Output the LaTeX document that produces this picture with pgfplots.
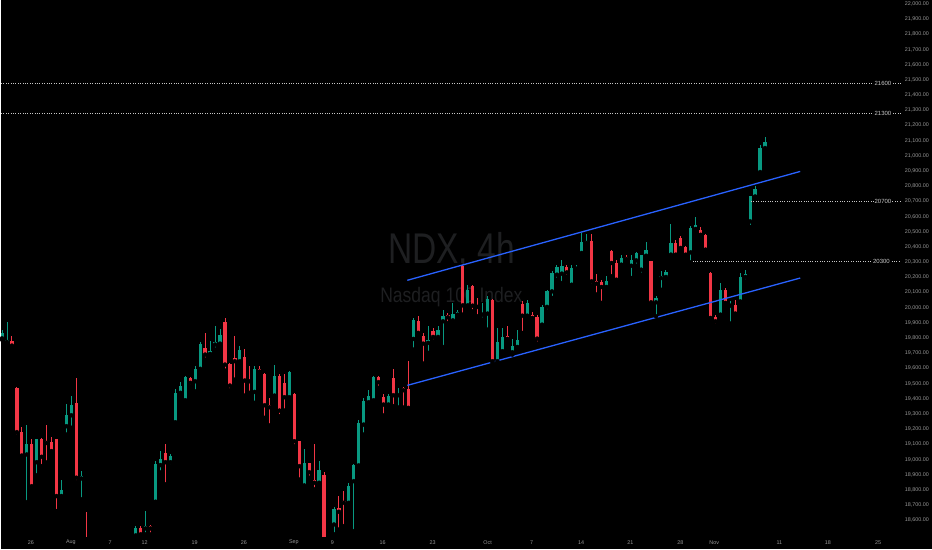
\documentclass[border=0pt]{standalone}
\usepackage{fontspec}
\setmainfont{Liberation Sans}
\usepackage{pgfplots}
\usepackage{pgfplotstable}
\pgfplotsset{compat=1.18}

\definecolor{upc}{RGB}{8,153,129}
\definecolor{dnc}{RGB}{242,54,69}
\definecolor{chan}{RGB}{41,98,255}
\definecolor{wm}{RGB}{30,31,33}
\definecolor{lbl}{RGB}{150,150,150}
\definecolor{lvl}{RGB}{200,200,200}

% 4h bars, NDX; i = bar index (2 bars per session)
\pgfplotstableread{
i O H L C
0 19798 19855 19789 19834
1 19774 19903 19757 19789
5 19033 19224 18719 19105
7 18982 19138 18895 19136
12 18759 18868 18755 18796
13 19219 19368 19164 19296
14 19291 19421 19209 19362
16 18875 18923 18737 18890
27 18500 18559 18487 18546
29 18546 18664 18507 18559
31 18722 18987 18718 18967
32 18963 19055 18914 19005
34 18982 19039 18956 19022
35 19245 19465 19241 19439
36 19439 19507 19428 19487
37 19390 19553 19377 19541
39 19515 19614 19449 19599
40 19597 19772 19588 19763
42 19695 19778 19691 19717
43 19757 19882 19724 19772
44 19763 19860 19745 19822
48 19647 19745 19636 19719
51 19445 19618 19373 19597
55 19421 19625 19416 19548
58 19410 19581 19384 19574
61 18829 19066 18814 18974
64 18847 18989 18836 18928
67 18572 18684 18507 18676
70 18715 18847 18704 18824
71 18857 18967 18528 18961
72 18961 19263 18956 19237
73 19230 19406 19164 19384
74 19377 19456 19351 19421
75 19390 19553 19381 19541
78 19362 19428 19348 19421
80 19423 19474 19342 19432
83 19794 19932 19724 19916
86 19768 19877 19702 19789
88 19807 19877 19789 19851
89 19910 19987 19741 19947
91 19916 20031 19910 19961
92 19954 19987 19940 19969
94 20015 20151 20005 20114
97 19954 20031 19921 19961
98 19961 20074 19855 20059
100 19647 19866 19636 19772
101 19713 19866 19702 19807
103 19706 19794 19691 19750
104 19741 19855 19724 19789
106 19947 20053 19932 20031
109 19888 20020 19882 20005
110 20005 20118 19976 20107
111 20107 20239 20064 20228
112 20217 20283 20184 20268
113 20224 20316 20162 20272
115 20151 20283 20145 20261
116 20257 20283 20250 20268
117 20360 20491 20349 20430
118 20426 20487 20414 20436
122 20136 20206 20132 20173
125 20283 20349 20272 20327
127 20276 20349 20195 20311
128 20311 20364 20276 20360
129 20250 20349 20217 20344
130 20342 20432 20338 20382
132 20035 20074 19943 20064
133 20195 20239 20118 20206
134 20202 20250 20189 20232
135 20349 20553 20342 20426
139 20364 20535 20298 20524
140 20518 20597 20513 20546
145 19954 20162 19943 20118
147 20013 20041 19895 20020
149 20041 20228 20035 20202
150 20202 20250 20173 20224
151 20568 20737 20531 20732
152 20732 20798 20728 20781
153 20893 21072 20886 21051
154 21051 21127 21044 21094
}\upbars

\pgfplotstableread{
i O H L C
2 19783 19811 19741 19750
3 19472 19480 19153 19180
4 19184 19211 19007 19026
6 19105 19132 18815 18824
8 19136 19140 18956 19018
9 19122 19224 18980 19109
10 19114 19145 19048 19055
11 19132 19135 18660 18759
15 19373 19538 18851 18880
17 18460 18651 18380 18420
28 18551 18559 18493 18507
30 18559 18566 18506 18546
33 19044 19105 18836 18982
38 19538 19544 19478 19505
41 19735 19836 19658 19691
45 19908 19932 19586 19625
46 19630 19636 19456 19487
47 19669 19816 19526 19647
49 19676 19728 19421 19520
50 19526 19618 19439 19515
52 19597 19614 19566 19579
53 19566 19570 19274 19357
54 19360 19406 19224 19344
56 19553 19566 19285 19322
57 19505 19566 19322 19410
59 19432 19435 19087 19120
60 19120 19122 18868 18956
62 18974 18978 18880 18916
63 18862 19099 18803 18847
65 18901 18916 18440 18470
68 18680 18759 18539 18656
69 18726 18791 18561 18715
76 19541 19553 19472 19509
77 19413 19428 19289 19362
79 19538 19597 19351 19423
81 19472 19478 19342 19456
82 19461 19647 19329 19340
84 19914 19947 19811 19834
85 19816 19834 19632 19763
87 19844 19866 19778 19807
90 19954 19965 19899 19936
93 20272 20283 19954 20015
95 20145 20151 19976 20013
96 20013 20064 19943 20005
99 20048 20057 19636 19647
102 19811 19882 19778 19794
105 20026 20041 19833 19947
107 19950 19974 19921 19932
108 19939 19954 19763 19796
114 20268 20283 20202 20232
119 20436 20487 20145 20173
120 20173 20224 20086 20158
121 20169 20184 20031 20136
123 20370 20377 20206 20294
124 20294 20316 20173 20184
126 20331 20349 20305 20320
131 20305 20310 20013 20035
136 20426 20447 20338 20349
137 20459 20469 20370 20393
138 20399 20408 20342 20349
141 20509 20531 20469 20480
142 20480 20482 20375 20382
143 20228 20232 19926 19932
144 19939 19954 19882 19910
146 20118 20130 20020 20031
148 20020 20053 19954 19961
}\dnbars

\begin{document}
\begin{tikzpicture}
\fill[black] (0,-12.5pt) rectangle (932pt,537.5pt);
\begin{axis}[
  at={(0,0)}, anchor=south west,
  width=932pt, height=537.5pt, scale only axis,
  xmin=-0.2, xmax=187.7, ymin=18490, ymax=22026,
  axis line style={draw=none},
  major tick length=0pt, tick style={draw=none},
  xtick={5.85,13.9,21.8,28.8,38.9,48.8,58.9,66.7,76.8,86.9,98.0,106.9,116.9,126.8,136.9,143.75,156.9,166.7,176.8},
  xticklabels={26,Aug,7,12,19,26,Sep,9,16,23,Oct,7,14,21,28,Nov,11,18,25},
  ytick={18600,18700,18800,18900,19000,19100,19200,19300,19400,19500,19600,19700,19800,19900,20000,20100,20200,20300,20400,20500,20600,20700,20800,20900,21000,21100,21200,21300,21400,21500,21600,21700,21800,21900,22000},
  scaled y ticks=false,
  yticklabel pos=right,
  ticklabel style={font=\fontsize{5.4}{6}\selectfont, text=lbl, inner sep=0pt},
  xticklabel style={anchor=center, yshift=-5.5pt},
  yticklabel style={anchor=east, xshift=-3pt},
  /pgf/number format/fixed,
  /pgf/number format/fixed zerofill,
  /pgf/number format/precision=2,
  /pgf/number format/1000 sep={,},
  /pgf/number format/assume math mode=true,
  clip=true,
]
% watermark
\node[text=wm, font=\fontsize{43}{50}\selectfont, xscale=0.78, anchor=base] at (axis cs:90.7,20288) {NDX, 4h};
\node[text=wm, font=\fontsize{21}{25}\selectfont, xscale=0.835, anchor=base] at (axis cs:90.7,20031) {Nasdaq 100 Index};

% wicks
\addplot[only marks, mark=none, forget plot, error bars/.cd, y dir=plus, y explicit, error mark=none,
  error bar style={upc, line width=0.9pt}]
  table[x=i, y=L, y error plus expr=\thisrow{H}-\thisrow{L}] {\upbars};
\addplot[only marks, mark=none, forget plot, error bars/.cd, y dir=plus, y explicit, error mark=none,
  error bar style={dnc, line width=0.9pt}]
  table[x=i, y=L, y error plus expr=\thisrow{H}-\thisrow{L}] {\dnbars};
% bodies
\addplot[only marks, mark=none, forget plot, error bars/.cd, y dir=plus, y explicit, error mark=none,
  error bar style={upc, line width=3.3pt}]
  table[x=i, y=O, y error plus expr=\thisrow{C}-\thisrow{O}] {\upbars};
\addplot[only marks, mark=none, forget plot, error bars/.cd, y dir=plus, y explicit, error mark=none,
  error bar style={dnc, line width=3.3pt}]
  table[x=i, y=C, y error plus expr=\thisrow{O}-\thisrow{C}] {\dnbars};

% channel
\addplot[chan, line width=1.3pt] coordinates {(81.8,20180) (161.1,20897)};
\addplot[chan, line width=1.3pt] coordinates {(81.8,19488) (161.1,20195)};

% levels
\addplot[lvl, line width=0.7pt, dash pattern=on 0.8pt off 1.6pt] coordinates {(-0.2,21474) (181.45,21474)};
\addplot[lvl, line width=0.7pt, dash pattern=on 0.8pt off 1.6pt] coordinates {(-0.2,21281) (181.45,21281)};
\addplot[lvl, line width=0.7pt, dash pattern=on 0.8pt off 1.6pt] coordinates {(151.15,20699) (181.45,20699)};
\addplot[lvl, line width=0.7pt, dash pattern=on 0.8pt off 1.6pt] coordinates {(138.9,20305) (181.45,20305)};
\node[fill=black, text=lvl, font=\fontsize{6}{7}\selectfont, inner sep=1pt] at (axis cs:177.8,21474) {21600};
\node[fill=black, text=lvl, font=\fontsize{6}{7}\selectfont, inner sep=1pt] at (axis cs:177.8,21281) {21300};
\node[fill=black, text=lvl, font=\fontsize{6}{7}\selectfont, inner sep=1pt] at (axis cs:177.8,20699) {20700};
\node[fill=black, text=lvl, font=\fontsize{6}{7}\selectfont, inner sep=1pt] at (axis cs:177.5,20305) {20300};
\end{axis}
\end{tikzpicture}
\end{document}
